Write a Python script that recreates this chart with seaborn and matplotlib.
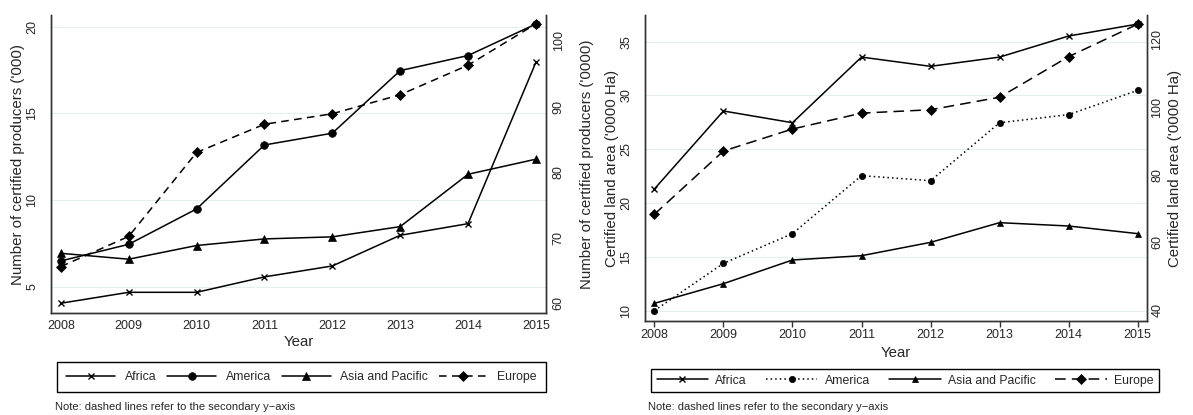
import matplotlib
matplotlib.use("Agg")
import matplotlib.pyplot as plt
import pandas as pd
import seaborn as sns
from matplotlib.lines import Line2D

years = [2008, 2009, 2010, 2011, 2012, 2013, 2014, 2015]
regions = ["Africa", "America", "Asia and Pacific", "Europe"]

# certified producers ('000); Europe on the secondary axis ('0000)
prod_africa = [4.04, 4.67, 4.67, 5.56, 6.19, 7.96, 8.63, 17.94]
prod_america = [6.48, 7.44, 9.48, 13.17, 13.85, 17.46, 18.33, 20.15]
prod_asia = [6.92, 6.58, 7.37, 7.75, 7.87, 8.46, 11.48, 12.35]
prod_europe = [65.6, 70.2, 83.0, 87.3, 88.9, 91.8, 96.3, 102.6]

# certified land area ('0000 Ha); Europe on the secondary axis
land_africa = [21.31, 28.56, 27.47, 33.57, 32.71, 33.57, 35.53, 36.64]
land_america = [10.0, 14.40, 17.16, 22.55, 22.08, 27.47, 28.22, 30.48]
land_asia = [10.68, 12.51, 14.71, 15.11, 16.35, 18.18, 17.87, 17.16]
land_europe = [68.3, 87.0, 93.5, 98.2, 99.2, 102.9, 114.9, 124.5]

prod = pd.DataFrame({"year": years, "Africa": prod_africa, "America": prod_america,
                     "Asia and Pacific": prod_asia, "Europe": prod_europe})
land = pd.DataFrame({"year": years, "Africa": land_africa, "America": land_america,
                     "Asia and Pacific": land_asia, "Europe": land_europe})

sns.set_theme(style="white")
plt.rcParams["font.family"] = ["Liberation Sans", "DejaVu Sans"]

fig = plt.figure(figsize=(11.93, 4.15), dpi=100)
ax1 = fig.add_axes([0.04275, 0.2451, 0.4147, 0.7188])
ax3 = fig.add_axes([0.5407, 0.2265, 0.4210, 0.7373])

markers = {"Africa": "x", "America": "o", "Asia and Pacific": "^", "Europe": "D"}
styles_prod = {"Africa": "-", "America": "-", "Asia and Pacific": "-", "Europe": (0, (5, 3.5))}
sizes_prod = {"Africa": 5, "America": 5.5, "Asia and Pacific": 5.5, "Europe": 5.5}
styles_land = {"Africa": "-", "America": (0, (1, 2)), "Asia and Pacific": "-", "Europe": (0, (7, 4))}
sizes_land = {"Africa": 4, "America": 4.5, "Asia and Pacific": 5, "Europe": 5}


def draw(ax, df, styles, msize, ylabel, ylabel2, ylim, ylim2, yticks, yticks2):
    ax2 = ax.twinx()
    for name in regions:
        target = ax2 if name == "Europe" else ax
        sns.lineplot(data=df, x="year", y=name, ax=target, color="black",
                     linestyle=styles[name], marker=markers[name],
                     markersize=msize[name], markeredgecolor="black",
                     mew=1.0 if name == "Africa" else 0.5, linewidth=1.1)
    ax.set_xlim(2007.855, 2015.145)
    ax.set_ylim(*ylim)
    ax2.set_ylim(*ylim2)
    ax.set_xticks(years)
    ax.set_yticks(yticks)
    ax2.set_yticks(yticks2)
    ax.yaxis.grid(True, color="#e8eef0", lw=0.8)
    ax.set_ylabel(ylabel, fontsize=10.8)
    ax2.set_ylabel(ylabel2, fontsize=10.8)
    ax.set_xlabel("Year", fontsize=10.8)
    for a in (ax, ax2):
        a.spines["top"].set_visible(False)
        for s in ("left", "right", "bottom"):
            a.spines[s].set_color("#333333")
            a.spines[s].set_linewidth(1.0)
        a.tick_params(axis="y", labelrotation=90, length=0, labelsize=9)
        for t in a.get_yticklabels():
            t.set_va("center")
    ax.tick_params(axis="x", labelsize=9)
    return ax2


ax2 = draw(ax1, prod, styles_prod, sizes_prod,
           "Number of certified producers ('000)", "Number of certified producers ('0000)",
           (3.46, 20.67), (58.48, 103.96), [5, 10, 15, 20], [60, 70, 80, 90, 100])
ax1.tick_params(axis="x", length=0, pad=5)
ax1.tick_params(axis="y", pad=9)
ax2.tick_params(axis="y", pad=5)
ax1.xaxis.labelpad = 2
ax1.yaxis.labelpad = 1
ax2.yaxis.labelpad = 11

ax4 = draw(ax3, land, styles_land, sizes_land,
           "Certified land area ('0000 Ha)", "Certified land area ('0000 Ha)",
           (9.04, 37.48), (36.75, 127.2), [10, 15, 20, 25, 30, 35], [40, 60, 80, 100, 120])
ax3.set_xlim(2007.865, 2015.139)
ax3.tick_params(axis="x", length=4.5, width=1, color="#333333", pad=1.5, bottom=True)
ax3.tick_params(axis="y", pad=9)
ax4.tick_params(axis="y", pad=3)
ax3.xaxis.labelpad = 3
ax3.yaxis.labelpad = 1
ax4.yaxis.labelpad = 3


def handles(styles, msize):
    out = []
    for name in regions:
        out.append(Line2D([], [], color="black", linestyle=styles[name], marker=markers[name],
                          markersize=msize[name], markeredgecolor="black", linewidth=1.1,
                          mew=1.0 if name == "Africa" else 0.5))
    return out


leg1 = fig.legend(handles(styles_prod, sizes_prod), regions, loc="center",
                  bbox_to_anchor=(0.0478, 0.0506, 0.41, 0.0819),
                  mode="expand", ncol=4, fontsize=8.8, handlelength=4, handletextpad=0.8,
                  borderpad=0.75, borderaxespad=0, fancybox=False, edgecolor="black",
                  framealpha=1)
leg1.get_frame().set_linewidth(1.0)
leg2 = fig.legend(handles(styles_land, sizes_land), regions, loc="center",
                  bbox_to_anchor=(0.5457, 0.0506, 0.4258, 0.065),
                  mode="expand", ncol=4, fontsize=8.8, handlelength=4.2, handletextpad=0.6,
                  borderpad=0.45, borderaxespad=0, fancybox=False, edgecolor="black",
                  framealpha=1)
leg2.get_frame().set_linewidth(1.0)

note = "Note: dashed lines refer to the secondary y\u2212axis"
fig.text(55 / 1193, 1 - 407 / 415, note, fontsize=8, va="center")
fig.text(648 / 1193, 1 - 407 / 415, note, fontsize=8, va="center")

fig.savefig("out.png", dpi=100)
